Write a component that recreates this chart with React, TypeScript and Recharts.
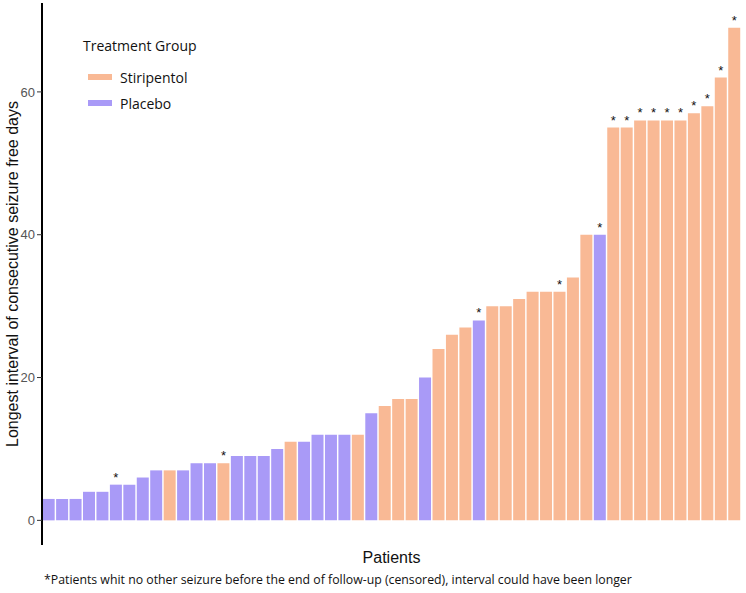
import { BarChart, Bar, XAxis, YAxis, Cell, LabelList } from "recharts";

// one bar per patient, sorted by interval
const DAYS = [
  3, 3, 3, 4, 4, 5, 5, 6, 7, 7, 7, 8, 8, 8, 9, 9, 9, 10, 11, 11, 12, 12, 12, 12, 15, 16,
  17, 17, 20, 24, 26, 27, 28, 30, 30, 31, 32, 32, 32, 34, 40, 40, 55, 55, 56, 56, 56, 56,
  57, 58, 62, 69,
];
const GROUP = [
  "P", "P", "P", "P", "P", "P", "P", "P", "P", "S", "P", "P", "P", "S", "P", "P", "P", "P",
  "S", "P", "P", "P", "P", "S", "P", "S", "S", "S", "P", "S", "S", "S", "P", "S", "S", "S",
  "S", "S", "S", "S", "S", "P", "S", "S", "S", "S", "S", "S", "S", "S", "S", "S",
];
// censored patients (1-based index), marked with *
const CENSORED = [6, 14, 33, 39, 42, 43, 44, 45, 46, 47, 48, 49, 50, 51, 52];
const Y_TICKS = [0, 20, 40, 60];

const GROUPS = [
  { key: "S", label: "Stiripentol", color: "#f9b995" },
  { key: "P", label: "Placebo", color: "#a99af7" },
];

const data = DAYS.map((d, i) => ({
  patient: i + 1,
  days: d,
  group: GROUP[i],
  star: CENSORED.includes(i + 1) ? "*" : "",
}));

const colorOf = (g: string) => GROUPS.find((x) => x.key === g)?.color ?? "#999";

const ARIAL = "Arial, 'Liberation Sans', sans-serif";

function StarLabel(props: any) {
  const { x, y, width, value } = props;
  if (!value) return null;
  return (
    <text x={x + width / 2} y={y - 3} textAnchor="middle" fontSize={13} fill="#111" fontFamily={ARIAL}>
      {value}
    </text>
  );
}

function GroupLegend() {
  return (
    <div style={{ position: "absolute", left: 83, top: 36, fontFamily: "'Open Sans', sans-serif", color: "#111" }}>
      <div style={{ fontSize: 14, marginBottom: 9 }}>Treatment Group</div>
      {GROUPS.map((g) => (
        <div key={g.key} style={{ display: "flex", alignItems: "center", height: 26, paddingLeft: 5 }}>
          <span style={{ display: "inline-block", width: 24, height: 6, background: g.color, marginRight: 8 }} />
          <span style={{ fontSize: 14 }}>{g.label}</span>
        </div>
      ))}
    </div>
  );
}

export default function App() {
  return (
    <div style={{ position: "absolute", left: 0, top: 0, width: 746, height: 593, background: "#fff" }}>
      <BarChart
        width={746}
        height={593}
        data={data}
        margin={{ top: 3, right: 5, left: 0, bottom: 0 }}
        barCategoryGap="5%"
      >
        <XAxis
          dataKey="patient"
          type="category"
          height={48}
          tick={false}
          tickLine={false}
          axisLine={false}
          label={{
            content: (p: any) => {
              const vb = p.viewBox;
              return (
                <text x={vb.x + vb.width / 2} y={vb.y + 18} textAnchor="middle" fontSize={16} fill="#111" fontFamily={ARIAL}>
                  Patients
                </text>
              );
            },
          }}
        />
        <YAxis
          type="number"
          width={42}
          domain={[-3.45, 72.45]}
          allowDataOverflow
          ticks={Y_TICKS}
          tickSize={5}
          tickMargin={2}
          tick={{ fill: "#555", fontSize: 13, fontFamily: ARIAL }}
          tickLine={{ stroke: "#333" }}
          axisLine={{ stroke: "#000", strokeWidth: 2 }}
          label={{
            content: (p: any) => {
              const vb = p.viewBox;
              const cy = vb.y + vb.height / 2;
              return (
                <text x={12} y={cy} transform={`rotate(-90 12 ${cy})`} textAnchor="middle" dominantBaseline="central" fontSize={16} fill="#111" fontFamily={ARIAL}>
                  Longest interval of consecutive seizure free days
                </text>
              );
            },
          }}
        />
        <Bar dataKey="days" isAnimationActive={false}>
          {data.map((d) => (
            <Cell key={d.patient} fill={colorOf(d.group)} />
          ))}
          <LabelList dataKey="star" content={StarLabel} />
        </Bar>
      </BarChart>
      <GroupLegend />
      <div style={{ position: "absolute", left: 44, top: 571, fontSize: 12.3, fontFamily: "'Open Sans', sans-serif", color: "#111", whiteSpace: "nowrap" }}>
        *Patients whit no other seizure before the end of follow-up (censored), interval could have been longer
      </div>
    </div>
  );
}
